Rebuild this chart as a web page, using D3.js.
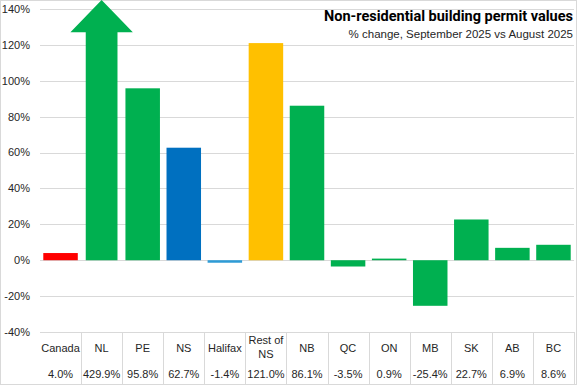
<!DOCTYPE html>
<html>
<head>
<meta charset="utf-8">
<script src="https://cdn.jsdelivr.net/npm/d3@7"></script>
<style>
  body { margin: 0; background: #fff; }
  svg { display: block; font-family: "Liberation Sans", Arial, sans-serif; }
  .grid line { stroke: #d9d9d9; }
  .ylab { font-size: 11px; fill: #262626; }
  .cell { font-size: 11px; fill: #262626; }
</style>
</head>
<body>
<div id="chart"></div>
<script>
// chart data
var categories = ["Canada", "NL", "PE", "NS", "Halifax", "Rest of NS", "NB", "QC", "ON", "MB", "SK", "AB", "BC"];
var values = [4.0, 429.9, 95.8, 62.7, -1.4, 121.0, 86.1, -3.5, 0.9, -25.4, 22.7, 6.9, 8.6];
var barColors = ["#ff0000", "#00b050", "#00b050", "#0070c0", "#2e9bd6", "#ffc000", "#00b050",
                 "#00b050", "#00b050", "#00b050", "#00b050", "#00b050", "#00b050"];
var yTicks = [-40, -20, 0, 20, 40, 60, 80, 100, 120, 140];
// bars above this are drawn as an arrow going off the chart
var capValue = 127;
var arrowTip = 145;

var W = 577, H = 385;
var margin = {top: 9, right: 3, bottom: 53, left: 40};
var width = W - margin.left - margin.right,
    height = H - margin.top - margin.bottom;

var svg = d3.select("#chart").append("svg")
    .attr("width", W)
    .attr("height", H);

// outer border
svg.append("rect")
    .attr("x", 0.5).attr("y", 0.5)
    .attr("width", W - 1).attr("height", H - 1)
    .attr("fill", "none")
    .attr("stroke", "#d9d9d9");

var g = svg.append("g")
    .attr("transform", "translate(" + margin.left + "," + margin.top + ")");

var x = d3.scaleBand()
    .domain(categories)
    .range([0, width])
    .paddingInner(0.16)
    .paddingOuter(0.08);

var y = d3.scaleLinear()
    .domain([-40, 140])
    .range([height, 0]);

// gridlines
g.append("g")
    .attr("class", "grid")
    .selectAll("line")
    .data(yTicks)
    .enter()
    .append("line")
    .attr("x1", 0)
    .attr("x2", width)
    .attr("y1", function(d) { return Math.round(y(d)) + 0.5; })
    .attr("y2", function(d) { return Math.round(y(d)) + 0.5; });

// y labels
g.selectAll("text.ylab")
    .data(yTicks)
    .enter()
    .append("text")
    .attr("class", "ylab")
    .attr("x", -10)
    .attr("y", function(d) { return y(d); })
    .attr("dy", "0.35em")
    .style("text-anchor", "end")
    .text(function(d) { return d + "%"; });

var data = categories.map(function(c, i) {
    return {cat: c, value: values[i], color: barColors[i]};
});

// normal bars
g.selectAll("rect.bar")
    .data(data.filter(function(d) { return d.value <= capValue; }))
    .enter()
    .append("rect")
    .attr("class", "bar")
    .attr("x", function(d) { return x(d.cat); })
    .attr("width", x.bandwidth())
    .attr("y", function(d) { return y(Math.max(0, d.value)); })
    .attr("height", function(d) { return Math.max(0.8, Math.abs(y(d.value) - y(0))); })
    .attr("fill", function(d) { return d.color; });

// capped bars -> arrow
g.selectAll("path.arrow")
    .data(data.filter(function(d) { return d.value > capValue; }))
    .enter()
    .append("path")
    .attr("class", "arrow")
    .attr("fill", function(d) { return d.color; })
    .attr("d", function(d) {
        var cx = x(d.cat) + x.bandwidth() / 2,
            hw = x.bandwidth() * 0.46,
            head = x.step() * 0.76;
        var yb = y(0), ys = y(capValue), yt = y(arrowTip);
        return "M" + (cx - hw) + "," + yb +
            "L" + (cx - hw) + "," + ys +
            "L" + (cx - head) + "," + ys +
            "L" + cx + "," + yt +
            "L" + (cx + head) + "," + ys +
            "L" + (cx + hw) + "," + ys +
            "L" + (cx + hw) + "," + yb + "Z";
    });

// data table
var tableTop = height;
var tableBottom = H - margin.top - 1;
var step = x.step();
var bandStart = function(i) { return i * step; };

var tbl = g.append("g").attr("class", "table");

tbl.selectAll("line.sep")
    .data(d3.range(1, categories.length + 1))
    .enter()
    .append("line")
    .attr("x1", function(i) { return Math.round(bandStart(i)) + 0.5; })
    .attr("x2", function(i) { return Math.round(bandStart(i)) + 0.5; })
    .attr("y1", tableTop)
    .attr("y2", tableBottom)
    .attr("stroke", "#d9d9d9");

tbl.selectAll("text.cat")
    .data(categories)
    .enter()
    .append("text")
    .attr("class", "cell")
    .attr("x", function(d, i) { return bandStart(i) + step / 2; })
    .attr("y", tableTop + 16)
    .attr("dy", "0.35em")
    .style("text-anchor", "middle")
    .each(function(d) {
        var t = d3.select(this);
        if (d === "Rest of NS") {
            t.append("tspan").attr("x", t.attr("x")).attr("dy", "-0.35em").text("Rest of");
            t.append("tspan").attr("x", t.attr("x")).attr("dy", "1.3em").text("NS");
        } else {
            t.text(d);
        }
    });

tbl.selectAll("text.val")
    .data(values)
    .enter()
    .append("text")
    .attr("class", "cell")
    .attr("x", function(d, i) { return bandStart(i) + step / 2; })
    .attr("y", tableTop + 42)
    .attr("dy", "0.35em")
    .style("text-anchor", "middle")
    .text(function(d) { return d.toFixed(1) + "%"; });

// title
svg.append("text")
    .attr("x", W - 4)
    .attr("y", 21)
    .style("text-anchor", "end")
    .style("font-family", "'Liberation Sans Narrow', 'Roboto', sans-serif")
    .style("font-weight", "bold")
    .style("font-size", "14.5px")
    .attr("fill", "#000")
    .text("Non-residential  building  permit values");

svg.append("text")
    .attr("x", W - 4)
    .attr("y", 38)
    .style("text-anchor", "end")
    .style("font-size", "11.5px")
    .attr("fill", "#262626")
    .text("% change, September  2025 vs August 2025");
</script>
</body>
</html>
